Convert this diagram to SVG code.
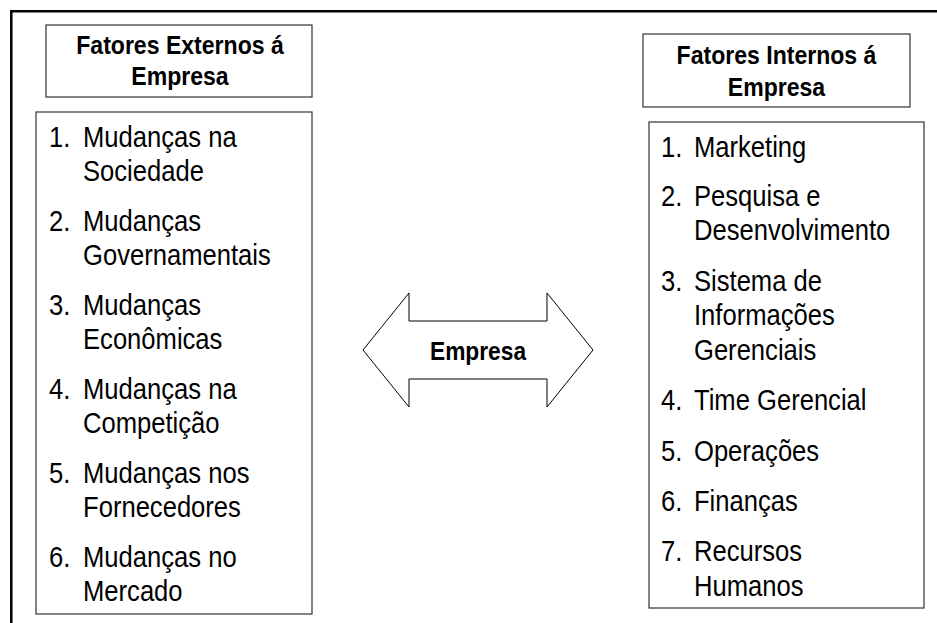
<svg xmlns="http://www.w3.org/2000/svg" width="937" height="623" viewBox="0 0 937 623">
<style>
.frame{fill:none;stroke:#000;stroke-width:2.5}
.box{fill:#fff;stroke:#333;stroke-width:1.2}
.arrow{fill:#fff;stroke:#000;stroke-width:1}
.title{font-family:"Liberation Sans",Arial,sans-serif;font-weight:bold;font-size:26.5px;fill:#000;text-anchor:middle}
.item{font-family:"Liberation Sans",Arial,sans-serif;font-size:30px;fill:#000}
.lbl{font-family:"Liberation Sans",Arial,sans-serif;font-weight:bold;font-size:26px;fill:#000;text-anchor:middle}
</style>
<rect width="937" height="623" fill="#fff"/>
<path class="frame" d="M11.3,623 V11.3 H937"/>

<g id="externos-titulo">
<rect class="box" x="46" y="25" width="266" height="72"/>
<g transform="translate(180 0) scale(0.87 1)">
<text class="title" x="0" y="54">Fatores Externos á</text>
<text class="title" x="0" y="85">Empresa</text>
</g>
</g>

<g id="externos-lista">
<rect class="box" x="36" y="112" width="276" height="502"/>
<g transform="translate(49 0) scale(0.853 1)">
<text class="item" x="0" y="147">1.</text><text class="item" x="39.9" y="147">Mudanças na</text>
<text class="item" x="39.9" y="181">Sociedade</text>
<text class="item" x="0" y="231">2.</text><text class="item" x="39.9" y="231">Mudanças</text>
<text class="item" x="39.9" y="265">Governamentais</text>
<text class="item" x="0" y="315">3.</text><text class="item" x="39.9" y="315">Mudanças</text>
<text class="item" x="39.9" y="349">Econômicas</text>
<text class="item" x="0" y="399">4.</text><text class="item" x="39.9" y="399">Mudanças na</text>
<text class="item" x="39.9" y="433">Competição</text>
<text class="item" x="0" y="483">5.</text><text class="item" x="39.9" y="483">Mudanças nos</text>
<text class="item" x="39.9" y="517">Fornecedores</text>
<text class="item" x="0" y="567">6.</text><text class="item" x="39.9" y="567">Mudanças no</text>
<text class="item" x="39.9" y="601">Mercado</text>
</g>
</g>

<g id="empresa">
<polygon class="arrow" points="363,350 409,293 409,321 547,321 547,293 593,350 547,407 547,379 409,379 409,407"/>
<g transform="translate(478 360) scale(0.875 1)">
<text class="lbl" x="0" y="0">Empresa</text>
</g>
</g>

<g id="internos-titulo">
<rect class="box" x="643" y="34" width="267" height="73"/>
<g transform="translate(776.5 0) scale(0.87 1)">
<text class="title" x="0" y="64">Fatores Internos á</text>
<text class="title" x="0" y="96">Empresa</text>
</g>
</g>

<g id="internos-lista">
<rect class="box" x="649" y="122" width="275" height="486"/>
<g transform="translate(661 0) scale(0.853 1)">
<text class="item" x="0" y="157">1.</text><text class="item" x="38.7" y="157">Marketing</text>
<text class="item" x="0" y="206">2.</text><text class="item" x="38.7" y="206">Pesquisa e</text>
<text class="item" x="38.7" y="240">Desenvolvimento</text>
<text class="item" x="0" y="291">3.</text><text class="item" x="38.7" y="291">Sistema de</text>
<text class="item" x="38.7" y="325">Informações</text>
<text class="item" x="38.7" y="360">Gerenciais</text>
<text class="item" x="0" y="410">4.</text><text class="item" x="38.7" y="410">Time Gerencial</text>
<text class="item" x="0" y="461">5.</text><text class="item" x="38.7" y="461">Operações</text>
<text class="item" x="0" y="511">6.</text><text class="item" x="38.7" y="511">Finanças</text>
<text class="item" x="0" y="561">7.</text><text class="item" x="38.7" y="561">Recursos</text>
<text class="item" x="38.7" y="596">Humanos</text>
</g>
</g>
</svg>
